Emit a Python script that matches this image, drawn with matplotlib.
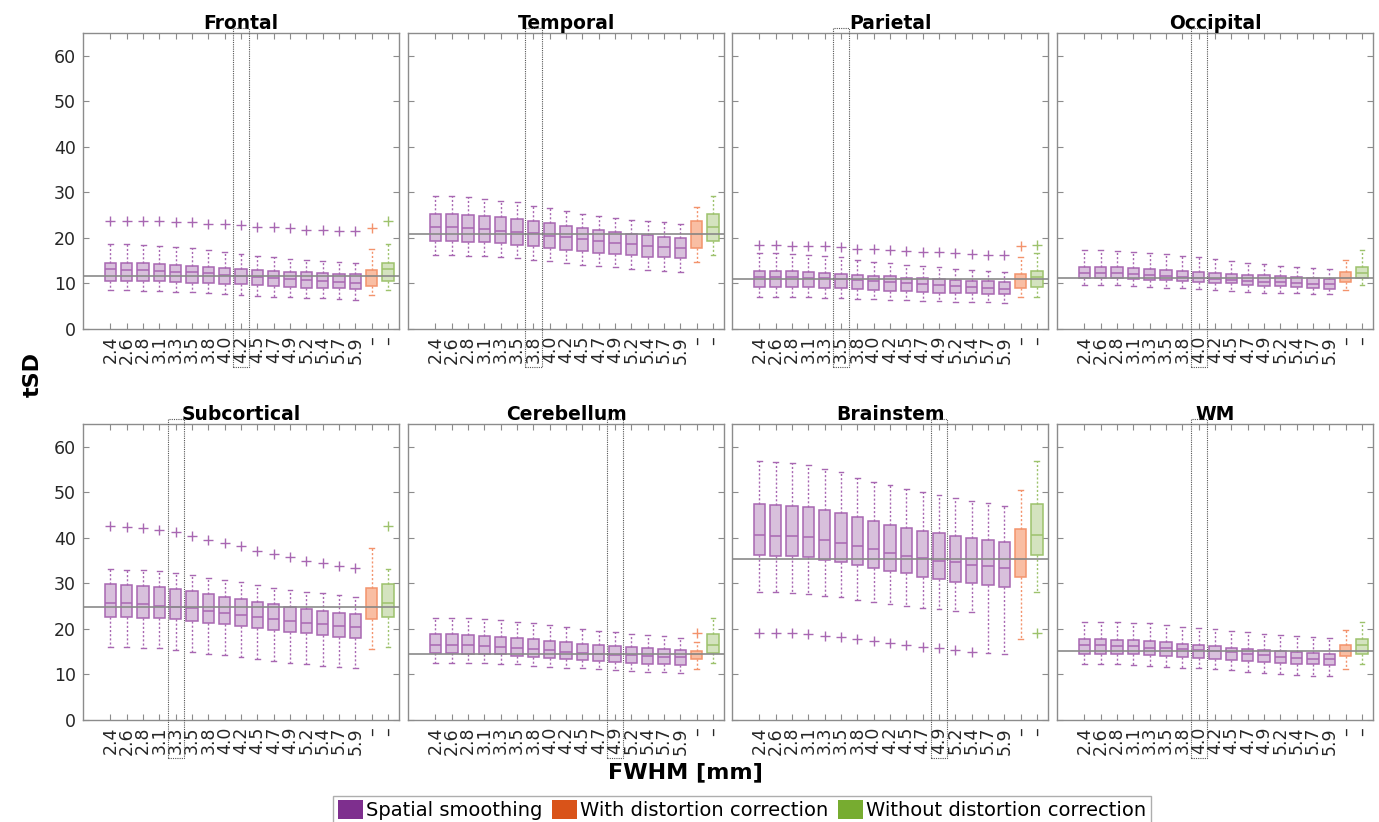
import matplotlib
matplotlib.use('Agg')
import matplotlib.pyplot as plt
import matplotlib.transforms as mtransforms
from matplotlib.patches import Rectangle, Patch

# ---------------- data ----------------
fwhm = ['2.4', '2.6', '2.8', '3.1', '3.3', '3.5', '3.8', '4.0',
        '4.2', '4.5', '4.7', '4.9', '5.2', '5.4', '5.7', '5.9']
extra_labels = ['–', '–']
regions = ['Frontal', 'Temporal', 'Parietal', 'Occipital',
           'Subcortical', 'Cerebellum', 'Brainstem', 'WM']
highlight_fwhm = ['4.2', '3.8', '3.5', '4.0', '3.3', '4.9', '4.9', '4.0']

# stats order for correction boxes: [whislo, q1, med, q3, whishi]
frontal_med = [13.1, 13.0, 13.0, 12.8, 12.6, 12.5, 12.2, 11.9, 11.7, 11.5, 11.2, 11.0, 10.7, 10.5, 10.3, 10.2]
frontal_q3 = [14.4, 14.4, 14.4, 14.2, 14.0, 13.8, 13.5, 13.3, 13.2, 13.0, 12.7, 12.6, 12.4, 12.2, 12.1, 12.1]
frontal_q1 = [10.5, 10.5, 10.5, 10.5, 10.3, 10.2, 10.0, 9.9, 9.8, 9.6, 9.4, 9.3, 9.1, 9.0, 8.9, 8.8]
frontal_whi = [18.6, 18.6, 18.4, 18.3, 17.9, 17.7, 17.4, 16.9, 16.5, 16.1, 15.7, 15.4, 15.1, 14.9, 14.6, 14.4]
frontal_wlo = [8.6, 8.6, 8.4, 8.4, 8.2, 8.1, 7.9, 7.6, 7.5, 7.3, 7.1, 7.0, 6.8, 6.7, 6.6, 6.4]
frontal_out = [23.7, 23.7, 23.7, 23.6, 23.5, 23.4, 23.1, 23.0, 22.8, 22.5, 22.3, 22.1, 21.8, 21.7, 21.5, 21.5]
frontal_corr = [7.5, 9.5, 11.7, 13.0, 17.6]
frontal_corr_out = [22.1]
frontal_nocorr = [8.6, 10.5, 13.1, 14.4, 18.6]
frontal_nocorr_out = [23.7]

temporal_med = [22.3, 22.3, 22.1, 21.9, 21.6, 21.3, 21.0, 20.5, 20.1, 19.7, 19.3, 18.9, 18.6, 18.3, 18.0, 17.7]
temporal_q3 = [25.3, 25.3, 25.1, 24.9, 24.5, 24.1, 23.7, 23.2, 22.7, 22.2, 21.7, 21.3, 20.9, 20.6, 20.2, 20.0]
temporal_q1 = [19.3, 19.3, 19.2, 19.1, 18.8, 18.4, 18.2, 17.7, 17.4, 17.1, 16.7, 16.4, 16.2, 15.9, 15.7, 15.5]
temporal_whi = [29.2, 29.2, 28.9, 28.6, 28.2, 27.8, 27.1, 26.5, 25.9, 25.3, 24.7, 24.3, 24.0, 23.7, 23.4, 23.1]
temporal_wlo = [16.2, 16.2, 16.1, 16.0, 15.8, 15.5, 15.2, 14.9, 14.5, 14.1, 13.8, 13.5, 13.2, 13.0, 12.7, 12.5]
temporal_out = [None] * 16
temporal_corr = [14.6, 17.8, 20.9, 23.7, 26.7]
temporal_corr_out = []
temporal_nocorr = [16.2, 19.3, 22.3, 25.3, 29.2]
temporal_nocorr_out = []

parietal_med = [11.5, 11.5, 11.4, 11.3, 11.2, 10.9, 10.8, 10.6, 10.3, 10.0, 9.8, 9.6, 9.4, 9.2, 9.0, 8.8]
parietal_q3 = [12.7, 12.7, 12.7, 12.5, 12.3, 12.1, 11.9, 11.7, 11.6, 11.3, 11.1, 11.0, 10.8, 10.6, 10.5, 10.3]
parietal_q1 = [9.3, 9.3, 9.3, 9.2, 9.0, 8.9, 8.7, 8.6, 8.4, 8.3, 8.1, 8.0, 7.8, 7.8, 7.7, 7.6]
parietal_whi = [16.6, 16.6, 16.5, 16.3, 16.1, 15.7, 15.2, 14.8, 14.4, 14.1, 13.8, 13.5, 13.2, 13.0, 12.8, 12.5]
parietal_wlo = [7.1, 7.1, 7.1, 7.0, 6.9, 6.7, 6.6, 6.5, 6.4, 6.3, 6.2, 6.1, 5.9, 5.9, 5.9, 5.8]
parietal_out = [18.5, 18.5, 18.3, 18.2, 18.2, 18.0, 17.6, 17.5, 17.3, 17.1, 16.9, 16.8, 16.6, 16.5, 16.3, 16.2]
parietal_corr = [7.1, 8.9, 10.9, 12.1, 15.9]
parietal_corr_out = [18.2]
parietal_nocorr = [7.1, 9.3, 11.5, 12.7, 16.6]
parietal_nocorr_out = [18.5]

occipital_med = [12.3, 12.2, 12.2, 12.1, 11.9, 11.7, 11.4, 11.1, 10.9, 10.8, 10.6, 10.4, 10.3, 10.0, 9.9, 9.8]
occipital_q3 = [13.6, 13.6, 13.6, 13.4, 13.2, 13.0, 12.8, 12.5, 12.2, 12.1, 11.9, 11.8, 11.6, 11.4, 11.1, 10.9]
occipital_q1 = [11.1, 11.1, 11.1, 11.0, 10.8, 10.8, 10.6, 10.3, 10.1, 10.0, 9.7, 9.5, 9.4, 9.2, 9.0, 8.8]
occipital_whi = [17.3, 17.3, 17.1, 16.9, 16.7, 16.4, 16.0, 15.7, 15.3, 14.9, 14.5, 14.2, 13.9, 13.7, 13.4, 13.2]
occipital_wlo = [9.7, 9.7, 9.6, 9.5, 9.2, 9.1, 8.9, 8.8, 8.6, 8.4, 8.1, 8.0, 7.9, 7.8, 7.7, 7.6]
occipital_out = [None] * 16
occipital_corr = [8.6, 10.3, 11.1, 12.5, 15.1]
occipital_corr_out = []
occipital_nocorr = [9.7, 11.1, 12.3, 13.6, 17.3]
occipital_nocorr_out = []

subcortical_med = [25.7, 25.6, 25.4, 25.1, 24.8, 24.5, 23.9, 23.4, 23.0, 22.6, 22.1, 21.7, 21.3, 21.0, 20.7, 20.4]
subcortical_q3 = [29.8, 29.7, 29.5, 29.2, 28.7, 28.3, 27.7, 27.0, 26.5, 25.9, 25.4, 24.8, 24.3, 24.0, 23.6, 23.2]
subcortical_q1 = [22.7, 22.6, 22.5, 22.4, 22.1, 21.8, 21.3, 21.0, 20.6, 20.2, 19.8, 19.3, 19.0, 18.6, 18.3, 18.0]
subcortical_whi = [33.1, 33.0, 33.0, 32.7, 32.2, 31.9, 31.1, 30.7, 30.2, 29.6, 29.0, 28.6, 28.1, 27.8, 27.4, 27.0]
subcortical_wlo = [16.0, 16.0, 15.8, 15.7, 15.4, 15.0, 14.6, 14.2, 13.8, 13.4, 13.0, 12.5, 12.2, 11.9, 11.7, 11.4]
subcortical_out = [42.5, 42.4, 42.2, 41.8, 41.2, 40.5, 39.6, 38.8, 38.1, 37.2, 36.5, 35.8, 35.0, 34.4, 33.9, 33.3]
subcortical_corr = [15.5, 22.1, 24.9, 28.9, 37.7]
subcortical_corr_out = []
subcortical_nocorr = [16.0, 22.7, 25.7, 29.8, 33.1]
subcortical_nocorr_out = [42.5]

cerebellum_med = [16.5, 16.5, 16.4, 16.3, 16.0, 15.7, 15.5, 15.3, 14.9, 14.7, 14.4, 14.3, 14.2, 14.1, 13.9, 13.8]
cerebellum_q3 = [18.8, 18.8, 18.7, 18.5, 18.3, 18.0, 17.7, 17.4, 17.1, 16.7, 16.4, 16.2, 16.0, 15.7, 15.5, 15.3]
cerebellum_q1 = [14.7, 14.7, 14.6, 14.4, 14.4, 14.1, 13.9, 13.7, 13.5, 13.2, 13.0, 12.7, 12.5, 12.3, 12.2, 12.0]
cerebellum_whi = [22.5, 22.5, 22.3, 22.2, 21.9, 21.6, 21.2, 20.8, 20.4, 19.9, 19.6, 19.3, 18.9, 18.6, 18.4, 18.1]
cerebellum_wlo = [12.6, 12.6, 12.5, 12.5, 12.2, 12.2, 11.9, 11.7, 11.5, 11.4, 11.1, 11.0, 10.8, 10.5, 10.5, 10.3]
cerebellum_out = [None] * 16
cerebellum_corr = [11.3, 13.3, 14.4, 15.1, 17.1]
cerebellum_corr_out = [19.2]
cerebellum_nocorr = [12.6, 14.7, 16.5, 18.8, 22.5]
cerebellum_nocorr_out = []

brainstem_med = [40.6, 40.5, 40.4, 40.1, 39.5, 38.8, 38.2, 37.5, 36.7, 36.1, 35.5, 35.0, 34.6, 34.1, 33.8, 33.3]
brainstem_q3 = [47.4, 47.3, 47.0, 46.7, 46.1, 45.4, 44.5, 43.7, 42.9, 42.2, 41.5, 41.0, 40.4, 40.0, 39.6, 39.1]
brainstem_q1 = [36.2, 36.1, 36.0, 35.8, 35.2, 34.7, 34.0, 33.3, 32.7, 32.2, 31.5, 30.9, 30.4, 30.0, 29.6, 29.2]
brainstem_whi = [56.8, 56.7, 56.5, 56.0, 55.1, 54.4, 53.2, 52.2, 51.5, 50.7, 50.0, 49.3, 48.7, 48.1, 47.6, 47.1]
brainstem_wlo = [28.1, 28.1, 27.9, 27.7, 27.3, 27.0, 26.4, 25.9, 25.5, 25.1, 24.6, 24.3, 23.9, 23.7, 14.7, 14.5]
brainstem_out = [19.1, 19.1, 19.0, 18.8, 18.5, 18.2, 17.8, 17.4, 16.9, 16.5, 16.0, 15.7, 15.4, 15.0, None, None]
brainstem_corr = [17.7, 31.5, 35.3, 42.0, 50.6]
brainstem_corr_out = []
brainstem_nocorr = [28.1, 36.2, 40.6, 47.4, 56.8]
brainstem_nocorr_out = [19.1]

wm_med = [16.4, 16.4, 16.3, 16.2, 15.9, 15.7, 15.5, 15.3, 15.2, 14.9, 14.5, 14.2, 13.9, 13.6, 13.5, 13.3]
wm_q3 = [17.7, 17.7, 17.6, 17.5, 17.3, 17.1, 16.6, 16.4, 16.2, 15.8, 15.5, 15.3, 15.1, 14.9, 14.7, 14.5]
wm_q1 = [14.5, 14.5, 14.4, 14.4, 14.2, 14.0, 13.8, 13.6, 13.3, 13.1, 12.9, 12.7, 12.5, 12.2, 12.2, 12.0]
wm_whi = [21.6, 21.6, 21.5, 21.4, 21.2, 20.8, 20.4, 20.1, 19.9, 19.6, 19.3, 18.9, 18.7, 18.5, 18.2, 18.1]
wm_wlo = [12.2, 12.2, 12.2, 12.1, 11.9, 11.7, 11.5, 11.4, 11.2, 10.9, 10.6, 10.3, 10.1, 9.9, 9.7, 9.6]
wm_out = [None] * 16
wm_corr = [11.2, 14.0, 15.2, 16.5, 19.7]
wm_corr_out = []
wm_nocorr = [12.2, 14.5, 16.4, 17.7, 21.6]
wm_nocorr_out = []

g = globals()

# ---------------- style ----------------
purple = '#7e2f8e'
orange = '#d95319'
green = '#77ac30'
styles = {
    'smooth': dict(face='#d8c0dc', edge='#a867b2'),
    'corr': dict(face='#f9bea3', edge='#f3936c'),
    'nocorr': dict(face='#d4e3bf', edge='#9dc26c'),
}
plt.rcParams['font.family'] = ['DejaVu Sans']
fig = plt.figure(figsize=(13.79, 8.22), dpi=100)

col_x = [0.0602, 0.2959, 0.5308, 0.7665]
row_y = [0.5998, 0.1241]
W, H = 0.2292, 0.3601
spine_c = '#8c8c8c'


def draw(ax, stats, positions, kind):
    st = styles[kind]
    ax.bxp(stats, positions=positions, widths=0.7, patch_artist=True,
           manage_ticks=False, showfliers=True,
           boxprops=dict(facecolor=st['face'], edgecolor=st['edge'], linewidth=1.1),
           medianprops=dict(color=st['edge'], linewidth=1.1),
           whiskerprops=dict(color=st['edge'], linestyle=(0, (1.5, 1.5)), linewidth=1.0),
           capprops=dict(color=st['edge'], linewidth=1.0),
           capwidths=0.3,
           flierprops=dict(marker='+', markeredgecolor=st['edge'], markersize=7,
                           markeredgewidth=1.0, linestyle='none'))


for i, reg in enumerate(regions):
    key = reg.lower()
    r, c = divmod(i, 4)
    ax = fig.add_axes([col_x[c], row_y[r], W, H])
    med, q1, q3 = g[key + '_med'], g[key + '_q1'], g[key + '_q3']
    wlo, whi, out = g[key + '_wlo'], g[key + '_whi'], g[key + '_out']
    stats = []
    for j in range(len(fwhm)):
        stats.append(dict(med=med[j], q1=q1[j], q3=q3[j], whislo=wlo[j], whishi=whi[j],
                          fliers=[] if out[j] is None else [out[j]]))
    draw(ax, stats, list(range(1, len(fwhm) + 1)), 'smooth')
    for n, kind in enumerate(['corr', 'nocorr']):
        v = g[key + '_' + kind]
        o = g[key + '_' + kind + '_out']
        draw(ax, [dict(whislo=v[0], q1=v[1], med=v[2], q3=v[3], whishi=v[4], fliers=o)],
             [len(fwhm) + 1 + n], kind)
    # reference line at median of distortion-corrected data
    ax.axhline(g[key + '_corr'][2], color='#8a8a8a', lw=1.2, zorder=5)

    ax.set_xlim(-0.68, len(fwhm) + 2 + 0.68)
    ax.set_ylim(0, 65)
    ax.set_xticks(range(1, len(fwhm) + 3))
    ax.set_xticklabels(fwhm + extra_labels, rotation=90, fontsize=12.5, color='#262626')
    ax.set_yticks(range(0, 61, 10))
    ax.tick_params(axis='both', direction='in', length=4, width=0.8, color=spine_c,
                   top=True, right=True, pad=5)
    ax.tick_params(axis='y', labelsize=12.5, labelcolor='#262626')
    if c != 0:
        ax.set_yticklabels([])
    for s in ax.spines.values():
        s.set_color(spine_c)
        s.set_linewidth(1.0)
    ax.set_title(reg, fontsize=13.5, fontweight='bold', pad=3)

    hi = fwhm.index(highlight_fwhm[i]) + 1
    trans = mtransforms.blended_transform_factory(ax.transData, ax.transAxes)
    ax.add_patch(Rectangle((hi - 0.5, -0.128), 1.0, 1.145, transform=trans, fill=False,
                           edgecolor='#555555', linestyle=(0, (1, 1)), linewidth=0.8,
                           clip_on=False, zorder=10))

fig.text(0.024, 0.545, 'tSD', rotation=90, fontsize=16, fontweight='bold',
         ha='center', va='center')
fig.text(0.497, 0.06, 'FWHM [mm]', fontsize=16, fontweight='bold',
         ha='center', va='center')

handles = [Patch(facecolor=purple, edgecolor='none'),
           Patch(facecolor=orange, edgecolor='none'),
           Patch(facecolor=green, edgecolor='none')]
leg = fig.legend(handles, ['Spatial smoothing', 'With distortion correction',
                           'Without distortion correction'],
                 loc='lower center', bbox_to_anchor=(0.538, -0.004), ncol=3, fontsize=14,
                 handlelength=1.3, handleheight=1.1, handletextpad=0.15,
                 columnspacing=0.5, borderpad=0.25, fancybox=False, frameon=True,
                 borderaxespad=0.0)
leg.get_frame().set_edgecolor('#9a9a9a')
leg.get_frame().set_linewidth(1.0)

fig.savefig('out.png', dpi=100)
